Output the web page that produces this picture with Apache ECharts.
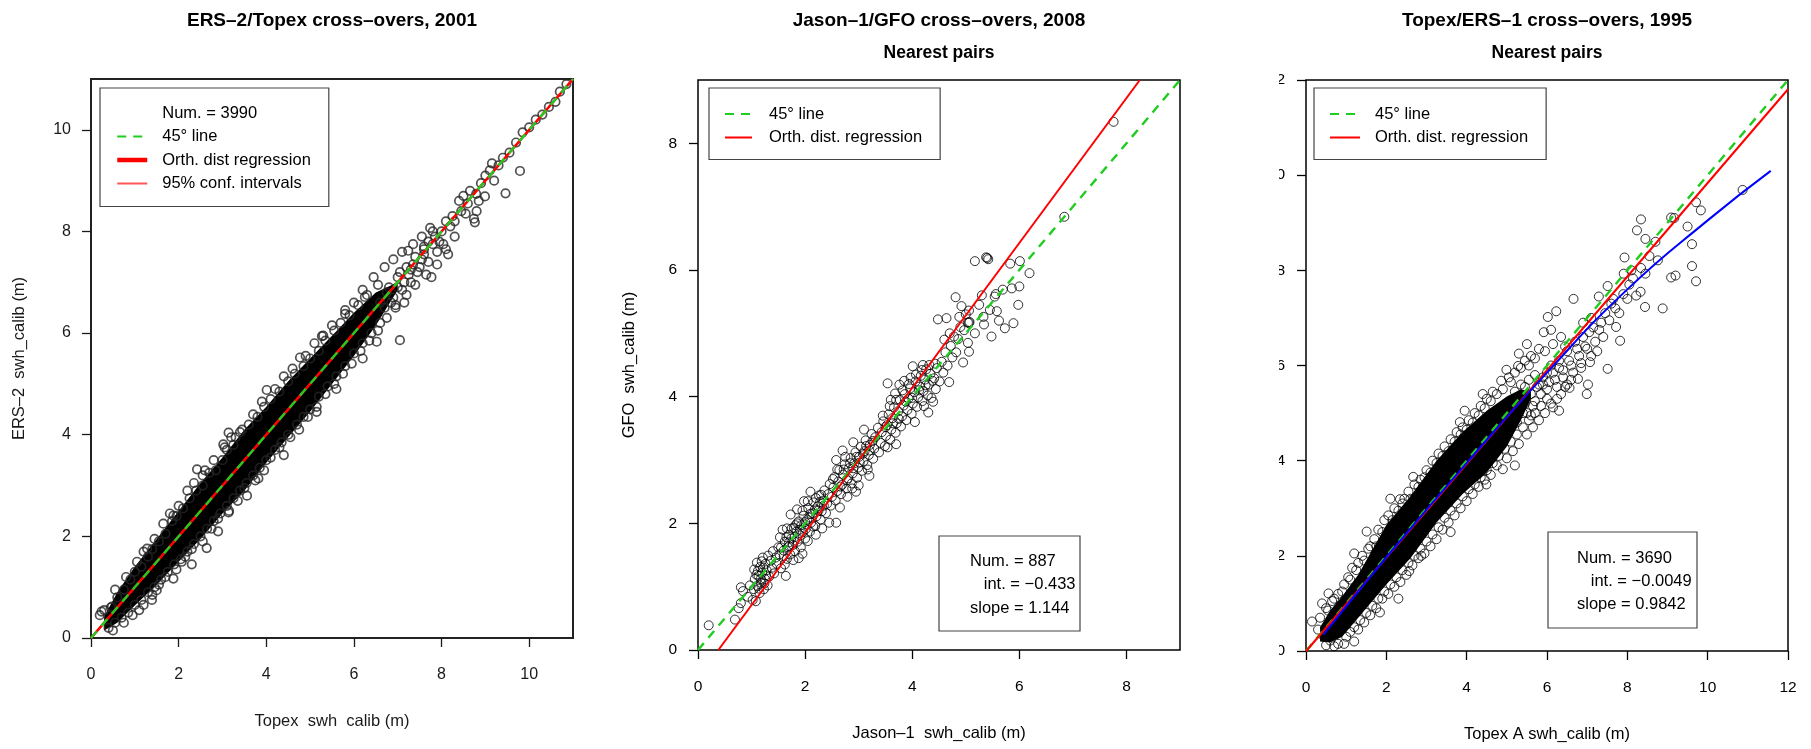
<!DOCTYPE html>
<html>
<head>
<meta charset="utf-8">
<script src="https://cdn.jsdelivr.net/npm/echarts@6/dist/echarts.min.js"></script>
<style>
  html, body { margin: 0; padding: 0; background: #fff; }
  #chart { width: 1811px; height: 749px; }
</style>
</head>
<body>
<div id="chart"></div>
<script>
const FONT = '"Liberation Sans", Arial, Helvetica, sans-serif';

// ---------- panel 1 : ERS-2 / Topex, 2001 ----------
const ersTicks = [0, 2, 4, 6, 8, 10];
// solid black core of the cloud (x, lower y, upper y)
const ersCoreX  = [0.3, 0.6, 1.0, 1.5, 2.0, 2.5, 3.0, 3.5, 4.0, 4.5, 5.0, 5.5, 6.0, 6.5, 7.0];
const ersCoreLo = [0.15, 0.3, 0.64, 1.05, 1.5, 1.95, 2.45, 2.9, 3.45, 3.95, 4.45, 5.0, 5.55, 6.15, 6.85];
const ersCoreHi = [0.42, 0.9, 1.4, 1.95, 2.5, 3.05, 3.55, 4.1, 4.55, 5.05, 5.5, 5.95, 6.4, 6.8, 7.0];
const ersPoints = [
  [0.3,0.55],[0.45,0.6],[0.6,0.8],[0.75,0.95],[0.9,1.15],[1.0,1.3],[1.15,1.4],[1.3,1.6],[1.4,1.75],[1.55,1.9],
  [1.7,2.05],[1.85,2.3],[1.95,2.4],[2.1,2.55],[2.25,2.75],[2.4,2.9],[2.55,3.0],[2.7,3.25],[2.85,3.3],[3.0,3.5],
  [3.1,3.7],[3.25,3.8],[3.45,4.1],[3.6,4.2],[3.8,4.35],[3.95,4.55],[4.1,4.7],[4.3,4.85],[4.5,5.05],[4.65,5.2],
  [4.85,5.35],[5.0,5.5],[5.2,5.65],[5.35,5.85],[5.55,6.05],[5.7,6.2],[5.9,6.35],[6.1,6.55],[6.3,6.75],[6.55,6.95],
  [0.24,0.52],[0.48,0.62],[1.88,2.41],[1.28,1.76],[2.42,3.32],[3.14,4.04],[3.02,3.81],[4.01,4.88],[4.77,5.52],
  [5.27,5.94],[5.80,6.38],[6.25,6.71],[7.24,7.62],[7.74,8.07],[2.55,3.2],[3.3,3.95],
  [0.4,0.2],[0.55,0.3],[0.7,0.4],[0.85,0.5],[1.0,0.65],[1.15,0.75],[1.3,0.9],[1.45,1.0],[1.6,1.15],[1.75,1.3],
  [1.9,1.45],[2.05,1.55],[2.2,1.7],[2.35,1.85],[2.5,2.0],[2.65,2.15],[2.8,2.3],[2.95,2.45],[3.1,2.6],[3.25,2.75],
  [3.4,2.9],[3.55,3.05],[3.7,3.2],[3.85,3.35],[4.0,3.5],[4.2,3.7],[4.35,3.85],[4.5,4.0],[4.7,4.2],[4.85,4.35],
  [5.0,4.5],[5.2,4.75],[5.4,4.95],[5.6,5.15],[5.8,5.35],[6.0,5.6],[6.2,5.8],[6.4,6.0],[6.6,6.2],
  [1.39,0.75],[1.50,0.94],[1.88,1.17],[2.07,1.50],[2.64,1.77],[3.14,2.47],[3.56,2.80],[3.82,3.14],[5.15,4.45],
  [6.52,5.83],[7.05,5.86],[2.3,1.45],[2.9,2.1],[4.4,3.6],[5.6,4.9],[6.2,5.5],[1.1,0.55],
  [6.7,6.5],[6.8,6.9],[6.9,6.7],[7.0,7.1],[7.1,6.85],[7.2,7.3],[7.3,7.0],[7.4,7.5],[7.45,7.2],[7.55,7.45],
  [7.6,7.7],[7.7,7.4],[7.77,7.10],[7.8,7.75],[7.9,7.6],[8.04,7.75],[8.15,7.55],[7.8,8.0],[7.55,7.9],[7.6,7.65],
  [8.0,8.0],[8.2,8.1],[8.3,8.2],[8.45,8.4],[8.6,8.55],[8.76,8.18],[8.80,8.40],[8.99,8.69],[8.74,8.25],[8.79,8.74],
  [8.9,8.95],[9.15,9.34],[9.2,9.0],[9.46,8.75],[9.79,9.19],[9.4,9.45],[9.7,9.75],[10.0,10.05],[10.3,10.3],
  [10.6,10.55],[10.85,10.9],[9.0,9.1],[8.5,8.7],[7.3,7.25],[6.95,6.55],[7.15,6.6],
  [0.2,0.45],[0.55,0.95],[0.8,1.2],[1.05,1.5],[1.2,1.7],[1.45,1.95],[1.65,2.25],[1.8,2.45],[2.0,2.6],[2.2,2.9],
  [2.35,3.05],[2.6,3.3],[2.8,3.5],[3.05,3.75],[3.2,3.95],[3.4,4.05],[3.7,4.4],[3.9,4.65],[4.2,4.9],[4.4,5.15],
  [4.6,5.3],[4.9,5.55],[5.1,5.8],[5.3,5.95],[5.5,6.15],[5.8,6.45],[6.0,6.6],[6.2,6.85],[6.45,7.1],[6.7,7.3],
  [6.9,7.45],[7.1,7.6],[7.35,7.75],
  [0.5,0.15],[0.75,0.3],[0.95,0.45],[1.2,0.65],[1.4,0.85],[1.55,1.05],[1.7,1.2],[1.95,1.35],[2.15,1.6],[2.3,1.75],
  [2.55,1.9],[2.75,2.15],[2.9,2.35],[3.15,2.5],[3.35,2.7],[3.5,2.95],[3.75,3.1],[3.95,3.3],[4.1,3.55],[4.3,3.75],
  [4.55,3.95],[4.75,4.1],[4.95,4.35],[5.15,4.55],[5.35,4.8],[5.55,5.0],[5.75,5.2],[5.95,5.4],[6.15,5.65],
  [6.35,5.85],[6.55,6.05],[6.75,6.3],[6.95,6.5],[7.2,6.75],[7.4,6.95],[7.65,7.15],[7.9,7.35],[8.1,7.65],[8.3,7.9],
  [6.6,6.6],[6.75,6.8],[6.85,6.6],[7.0,6.9],[7.05,7.2],[7.15,7.0],[7.25,7.15],[7.35,7.35],[7.5,7.3],[7.6,7.55],
  [7.7,7.8],[7.85,7.9],[7.95,7.8],[8.1,8.2],[8.25,8.3],[8.4,8.6],[8.55,8.35],[8.65,8.8],[8.85,8.6],[9.1,9.2],
  [9.3,9.3],[9.55,9.55],[9.85,9.95],[10.15,10.2],[10.45,10.45],[10.7,10.75]
];
const ersDiag = [[0, 0], [11, 11]];
const ersFit = [[0, 0], [11, 11]];
const ersConfLo = [[0, 0], [11, 11]];
const ersConfHi = [[0, 0], [11, 11]];

// ---------- panel 2 : Jason-1 / GFO, 2008 ----------
const gfoXTicks = [0, 2, 4, 6, 8];
const gfoYTicks = [0, 2, 4, 6, 8];
const gfoPoints = [
  [0.20,0.39],[0.69,0.48],[0.76,0.66],[0.80,0.74],[0.84,0.93],[0.80,0.99],[0.93,0.84],[0.97,1.02],
  [1.02,0.79],[1.04,0.96],[1.06,1.12],[1.08,0.77],[1.05,1.27],[1.10,1.38],[1.11,1.01],[1.13,1.17],[1.15,0.90],
  [1.16,1.31],[1.18,1.06],[1.20,1.22],[1.21,1.46],[1.23,0.96],[1.25,1.12],[1.26,1.36],[1.28,1.26],[1.30,1.02],
  [1.31,1.49],[1.33,1.16],[1.36,1.41],[1.38,1.30],
  [1.12,1.25],[1.17,1.12],[1.22,1.30],[1.27,1.18],[1.19,1.40],[1.09,1.19],[1.14,0.97],[1.24,1.05],
  [1.40,1.56],[1.42,1.21],[1.45,1.46],[1.47,1.36],[1.50,1.62],[1.52,1.51],[1.55,1.29],[1.58,1.90],[1.60,1.57],
  [1.62,1.71],[1.64,1.17],[1.66,1.44],[1.68,1.62],[1.70,1.82],[1.72,1.51],[1.74,1.76],[1.77,1.66],[1.79,1.93],
  [1.81,1.56],[1.84,1.87],[1.86,1.71],[1.88,2.03],[1.91,1.81],[1.95,1.52],[1.93,1.97],[1.97,2.12],[2.00,1.76],
  [2.01,1.91],[2.04,2.06],[2.06,2.24],[2.09,1.87],[2.11,2.01],[2.14,2.16],[2.16,2.33],[2.19,1.96],[2.21,2.11],
  [2.24,2.27],[2.26,2.44],[2.29,2.06],[2.31,2.19],[2.34,2.36],[2.36,2.52],[2.39,2.16],[2.41,2.31],[2.43,2.46],
  [1.73,2.14],[1.85,2.22],[1.98,2.35],[2.10,2.50],[1.66,1.92],[1.53,1.78],[1.62,1.35],[1.78,1.42],[1.92,1.62],
  [2.05,1.72],[2.20,1.82],[2.32,1.92],[2.45,2.01],[2.58,2.01],[1.88,1.45],
  [1.55,1.62],[1.60,1.48],[1.65,1.78],[1.70,1.64],[1.75,1.92],[1.80,1.78],[1.85,2.00],[1.90,1.90],[1.95,2.20],
  [2.00,2.02],[2.05,2.35],[2.10,2.15],[2.15,1.95],[2.20,2.40],[2.25,2.20],[2.30,2.45],[2.35,2.28],[1.70,1.70],
  [1.82,1.97],[1.96,1.86],[2.08,2.09],[2.18,2.22],[2.28,2.34],
  [2.46,2.62],[2.48,2.28],[2.50,2.42],[2.53,2.57],[2.55,2.73],[2.57,2.36],[2.60,2.51],[2.62,2.66],[2.64,2.84],
  [2.67,2.46],[2.69,2.61],[2.71,2.77],[2.74,2.93],[2.77,2.55],[2.79,2.42],[2.80,2.71],[2.82,2.87],[2.85,3.03],
  [2.87,2.63],[2.89,2.79],[2.92,2.95],[2.94,3.12],[2.97,2.72],[2.99,2.88],[3.01,3.05],[3.04,3.21],[3.06,2.83],
  [3.09,2.98],[3.11,3.14],[3.13,3.31],[3.16,2.92],[3.17,2.85],[3.19,3.08],[3.21,3.24],[3.24,3.41],[3.27,3.02],
  [3.29,3.18],[3.31,3.36],[2.58,3.00],[2.70,3.15],[2.90,3.28],[3.10,3.48],[2.65,2.25],[2.95,2.50],[3.20,2.75],
  [2.52,2.70],[2.60,2.85],[2.66,2.58],[2.72,2.85],[2.78,2.68],[2.84,2.95],[2.90,2.87],[2.96,3.05],[3.02,2.96],
  [3.08,3.10],[3.14,3.22],[3.20,3.15],[3.26,3.30],[2.75,3.05],[2.88,2.55],[3.00,2.60],
  [3.36,3.51],[3.38,3.12],[3.41,3.27],[3.43,3.44],[3.46,3.61],[3.49,3.22],[3.51,3.38],[3.54,3.20],[3.54,4.21],
  [3.53,3.55],[3.56,3.72],[3.59,3.32],[3.61,3.48],[3.63,3.66],[3.66,3.83],[3.69,3.43],[3.71,3.58],[3.74,3.77],
  [3.76,4.19],[3.77,3.95],[3.79,3.53],[3.81,3.69],[3.84,3.86],[3.86,4.04],[3.89,3.63],[3.91,3.79],[3.93,3.97],
  [3.96,4.13],[3.99,3.73],[4.01,4.48],[4.01,3.89],[4.04,4.07],[4.06,4.24],[4.09,3.84],[4.11,3.99],[4.14,4.16],
  [4.16,4.33],[4.19,3.93],[4.20,4.50],[4.21,4.09],[4.24,4.27],[4.26,4.43],[4.29,4.02],[4.31,4.19],[4.34,4.36],
  [4.36,3.98],[4.39,3.92],[4.41,4.29],[4.44,4.12],[3.60,3.95],[3.85,4.25],[4.05,3.60],[4.30,3.75],[3.70,3.25],
  [3.45,3.70],[3.50,3.52],[3.58,3.85],[3.64,3.58],[3.70,3.95],[3.75,3.65],[3.82,4.10],[3.88,3.92],[3.94,4.20],
  [4.00,3.98],[4.07,4.35],[4.13,4.10],[4.18,4.42],[4.25,4.18],[4.32,4.50],[4.38,4.25],[4.43,4.52],[3.68,4.05],
  [3.97,4.30],[4.22,3.85],
  [4.46,4.45],[4.48,5.22],[4.51,4.24],[4.55,4.55],[4.58,4.38],[4.62,4.70],[4.64,5.24],[4.66,4.49],[4.69,4.23],
  [4.72,4.80],[4.75,4.62],[4.78,4.95],[4.81,5.57],[4.82,4.70],[4.86,4.91],[4.88,5.26],[4.92,5.43],[4.95,4.54],
  [4.97,5.05],[5.04,5.17],[5.04,4.85],[5.06,5.36],[5.06,4.71],[4.60,4.90],[4.70,5.00],[4.90,5.10],[5.00,5.30],
  [5.17,5.00],[5.17,6.14],[5.33,5.26],[5.34,5.14],[5.38,6.20],[5.40,6.19],[5.42,6.17],[5.45,5.37],[5.48,4.95],
  [5.54,5.58],[5.56,5.62],[5.58,5.35],[5.62,5.20],[5.69,5.69],[5.73,5.08],[5.83,6.10],[5.86,5.71],[5.89,5.16],
  [5.98,5.45],[6.00,5.74],[6.01,6.14],[6.19,5.95],[5.06,5.17],[5.07,5.18],[5.25,5.45],[5.30,5.60],
  [6.84,6.84],[7.76,8.34]
];
const gfoDiag = [[0, 0], [9, 9]];
const gfoFit = [[0.38, 0], [8.25, 9]];
const gfoStats = ['Num. = 887', '   int. = \u22120.433', 'slope = 1.144'];

// ---------- panel 3 : Topex / ERS-1, 1995 ----------
const e1Ticks = [0, 2, 4, 6, 8, 10, 12];
const e1CoreX  = [0.35, 0.6, 0.9, 1.3, 2.0, 2.6, 3.25, 3.9, 4.5, 5.0, 5.35, 5.6];
const e1CoreLo = [0.2, 0.18, 0.3, 0.7, 1.4, 1.95, 2.7, 3.3, 3.75, 4.3, 4.85, 5.3];
const e1CoreHi = [0.5, 0.85, 1.15, 1.6, 2.65, 3.25, 4.0, 4.6, 5.05, 5.35, 5.5, 5.45];
const e1Points = [
  [0.15,0.62],[0.35,0.7],[0.5,0.9],[0.56,1.21],[0.65,1.05],[0.8,1.2],[0.95,1.4],[1.05,1.55],[1.15,1.75],
  [1.3,1.85],[1.4,2.0],[1.51,2.51],[1.55,2.15],[1.7,2.35],[1.8,2.55],[1.95,2.75],[2.05,2.85],[2.2,3.0],
  [2.34,3.19],[2.4,3.1],[2.55,3.35],[2.67,3.66],[2.7,3.5],[2.85,3.6],[3.0,3.8],[3.15,4.0],[3.3,4.15],[3.45,4.3],
  [3.6,4.45],[3.75,4.6],[3.83,4.81],[3.9,4.7],[4.05,4.85],[4.2,5.0],[4.35,5.15],[4.5,5.3],[4.65,5.45],[4.86,5.68],
  [4.99,5.91],[5.1,5.65],[5.28,5.99],[5.45,6.1],[5.6,6.2],[5.92,6.7],[6.02,7.02],[6.23,7.14],[6.66,7.4],
  [0.6,0.22],[0.45,0.3],[0.8,0.15],[1.0,0.3],[1.2,0.5],[1.35,0.65],[1.5,0.8],[1.65,0.95],[1.84,0.81],[1.8,1.1],
  [1.95,1.25],[2.1,1.4],[2.25,1.55],[2.4,1.7],[2.57,1.68],[2.55,1.85],[2.7,2.0],[2.87,2.0],[2.85,2.15],[3.0,2.3],
  [3.15,2.45],[3.3,2.6],[3.45,2.8],[3.6,2.95],[3.75,3.1],[3.9,3.25],[4.05,3.4],[4.2,3.5],[4.35,3.65],[4.49,3.5],
  [4.5,3.8],[4.65,3.95],[4.9,3.82],[4.8,4.1],[4.95,4.25],[5.1,4.4],[5.25,4.55],[5.4,4.7],[5.55,4.85],[5.7,5.0],
  [5.85,5.15],[6.0,5.3],[6.15,5.12],[6.35,5.4],[6.56,5.53],[6.77,5.72],[6.99,5.4],[7.02,5.6],
  [5.9,5.6],[6.0,5.85],[6.1,6.0],[6.2,5.7],[6.3,6.1],[6.4,5.9],[6.5,6.3],[6.6,6.0],[6.7,6.5],[6.8,6.2],
  [6.9,6.6],[7.07,6.07],[7.0,6.35],[7.15,6.8],[7.2,6.5],[7.29,7.45],[7.35,6.9],[7.45,7.1],[7.51,7.67],[7.51,5.93],
  [7.6,7.3],[7.72,6.81],[7.82,6.52],[7.9,7.5],[7.91,7.93],[7.93,8.27],[8.05,7.7],[8.14,7.83],[8.22,7.47],
  [8.24,8.84],[8.33,7.55],[8.34,8.05],[8.34,9.07],[8.44,7.23],[8.45,7.93],[8.45,8.66],[8.76,8.21],[8.88,7.2],
  [9.09,7.85],[9.09,9.11],[9.17,9.1],[9.2,7.89],[9.5,8.92],[9.61,8.55],[9.61,8.09],[9.71,7.77],[9.71,9.43],
  [9.83,9.26],[6.35,6.6],[6.45,6.4],[6.9,6.9],[7.1,7.0],[7.3,6.75],[7.7,7.2],[8.0,7.4],[5.95,6.3],[6.15,6.45],
  [10.87,9.69],
  [0.3,0.45],[0.55,0.85],[0.7,1.1],[0.9,1.25],[1.1,1.5],[1.25,1.7],[1.45,1.9],[1.6,2.2],[1.75,2.2],[1.9,2.5],
  [2.15,2.75],[2.3,2.95],[2.45,3.2],[2.6,3.2],[2.8,3.45],[2.95,3.65],[3.1,3.75],[3.25,3.95],[3.4,4.1],[3.55,4.2],
  [3.7,4.4],[3.85,4.55],[4.0,4.65],[4.15,4.8],[4.3,4.95],[4.45,5.1],[4.6,5.25],[4.75,5.4],[4.9,5.5],[5.05,5.75],
  [5.2,5.85],[5.35,5.95],[5.55,6.0],[5.7,6.15],[5.8,6.35],[5.3,6.25],[5.5,6.45],[6.1,6.75],[4.4,5.4],[3.95,5.05],
  [2.1,3.2],[1.2,2.05],[0.4,1.0],
  [0.5,0.12],[0.7,0.1],[0.95,0.15],[1.1,0.4],[1.3,0.45],[1.45,0.6],[1.6,0.75],[1.75,0.9],[1.9,1.1],[2.05,1.2],
  [2.2,1.35],[2.35,1.45],[2.5,1.6],[2.65,1.8],[2.8,1.95],[2.95,2.05],[3.1,2.2],[3.25,2.35],[3.4,2.55],[3.55,2.7],
  [3.7,2.85],[3.85,3.0],[4.0,3.15],[4.15,3.3],[4.3,3.45],[4.45,3.6],[4.6,3.7],[4.75,3.9],[5.0,4.05],[5.15,4.2],
  [5.3,4.35],[5.5,4.55],[5.65,4.7],[5.8,4.85],[5.95,5.0],[6.1,5.2],[6.25,5.3],[6.45,5.55],[6.6,5.7],[6.85,5.95],
  [7.1,6.2],[1.2,0.2],[2.3,1.1],[3.6,2.5],[5.2,3.9],[6.3,5.05],
  [5.3,5.1],[5.4,5.3],[5.5,5.0],[5.6,5.4],[5.7,5.25],[5.75,5.55],[5.85,5.4],[5.9,5.75],[6.0,5.5],[6.05,5.65],
  [6.15,5.85],[6.25,5.55],[6.3,5.95],[6.4,5.75],[6.5,5.6],[6.55,6.1],[6.65,5.85],[6.75,6.35],[6.85,6.05],
  [6.95,6.4],[7.05,6.7],[7.25,6.3],[7.4,6.6],[7.55,6.95],[7.65,7.4],[7.8,7.1],[8.1,8.0],[8.55,8.3],[8.7,8.6],
  [5.1,4.9],[5.2,5.15],[5.45,5.55],
  [5.2,5.45],[5.35,5.6],[5.45,5.2],[5.55,5.7],[5.65,5.15],[5.7,5.8],[5.8,5.6],[5.25,4.8],[5.4,5.0],[5.6,4.95]
];
const e1Diag = [[0, 0], [12, 12]];
const e1Fit = [[0, -0.005], [12, 11.806]];
const e1Smooth = [[0.43, 0.34], [2, 1.97], [4, 3.95], [6, 5.85], [8, 7.6], [10, 9.05], [11.57, 10.09]];
const e1Stats = ['Num. = 3690', '   int. = \u22120.0049', 'slope = 0.9842'];

// ---------- helpers ----------
const GREEN = '#1fcc1f';
const RED = '#ff0000';

function xAxis(idx, max, ticks, name, opt) {
  opt = opt || {};
  return {
    gridIndex: idx, type: 'value', min: 0, max: max, interval: 2,
    name: name, nameLocation: 'middle', nameGap: 75,
    nameTextStyle: { fontFamily: FONT, fontSize: 16.5, color: opt.color || '#000' },
    axisLine: { show: false },
    axisTick: { show: true, length: 9, customValues: ticks, lineStyle: { color: opt.color || '#000', width: 1.3 } },
    axisLabel: { customValues: ticks, margin: 29, fontFamily: FONT, fontSize: opt.fs || 15.5, color: opt.color || '#000' },
    splitLine: { show: false }
  };
}
function yAxis(idx, max, ticks, name, gap, opt) {
  opt = opt || {};
  return {
    gridIndex: idx, type: 'value', min: 0, max: max, interval: 2,
    name: name, nameLocation: 'middle', nameGap: gap, nameRotate: 90,
    nameTextStyle: { fontFamily: FONT, fontSize: 16.5, color: opt.color || '#000' },
    axisLine: { show: false },
    axisTick: { show: true, length: 9, customValues: ticks, lineStyle: { color: opt.color || '#000', width: 1.3 } },
    axisLabel: { customValues: ticks, margin: opt.margin || 21, fontFamily: FONT, fontSize: opt.fs || 15.5, color: opt.color || '#000' },
    splitLine: { show: false }
  };
}
function core(idx, xs, lo, hi) {
  return {
    type: 'custom', xAxisIndex: idx, yAxisIndex: idx, z: 1, silent: true,
    data: [[xs[0], lo[0]]],
    renderItem: function (params, api) {
      const pts = [];
      for (let i = 0; i < xs.length; i++) pts.push(api.coord([xs[i], lo[i]]));
      for (let i = xs.length - 1; i >= 0; i--) pts.push(api.coord([xs[i], hi[i]]));
      return { type: 'polygon', shape: { points: pts }, style: { fill: '#000' } };
    }
  };
}
function dots(idx, data, color, width, size) {
  return {
    type: 'scatter', xAxisIndex: idx, yAxisIndex: idx, data: data, z: 2, silent: true,
    symbol: 'circle', symbolSize: size,
    itemStyle: { color: 'rgba(0,0,0,0)', borderColor: color, borderWidth: width }
  };
}
function line(idx, name, data, color, width, dashed, smooth) {
  return {
    type: 'line', name: name, xAxisIndex: idx, yAxisIndex: idx, data: data, z: 3, silent: true,
    symbol: 'none', smooth: !!smooth, color: color,
    lineStyle: { color: color, width: width, type: dashed ? [9, 7] : 'solid' }
  };
}
function legend(left, top, names, itemWidth, textPad, padding) {
  return {
    orient: 'vertical', left: left, top: top, data: names, selectedMode: false,
    itemWidth: itemWidth, itemHeight: 14, itemGap: 3.5, padding: padding,
    borderColor: '#444', borderWidth: 1.2, backgroundColor: '#fff',
    itemStyle: { opacity: 0 },
    textStyle: { fontFamily: FONT, fontSize: 16.5, color: '#000', lineHeight: 20, padding: [0, 0, 0, textPad] }
  };
}
function statsBox(x, y, w, h, textX, textY, lines, lh) {
  return {
    type: 'group', children: [
      { type: 'rect', shape: { x: x, y: y, width: w, height: h }, style: { fill: '#fff', stroke: '#444', lineWidth: 1.2 }, z: 50 },
      { type: 'text', x: textX, y: textY, z: 51,
        style: { text: lines.join('\n'), font: '16.5px ' + FONT, fill: '#000', lineHeight: lh, verticalAlign: 'top' } }
    ]
  };
}
function heading(cx, cy, text, size) {
  return { type: 'text', x: cx, y: cy, z: 60,
    style: { text: text, font: 'bold ' + size + 'px ' + FONT, fill: '#000', align: 'center', verticalAlign: 'middle' } };
}

const option = {
  animation: false,
  backgroundColor: '#fff',
  grid: [
    { left: 91, top: 79, width: 482, height: 559, show: true, borderColor: '#222', borderWidth: 2, backgroundColor: 'transparent' },
    { left: 698, top: 80, width: 482, height: 570, show: true, borderColor: '#000', borderWidth: 1.5, backgroundColor: 'transparent' },
    { left: 1306, top: 80, width: 482, height: 571, show: true, borderColor: '#000', borderWidth: 1.5, backgroundColor: 'transparent' }
  ],
  xAxis: [
    xAxis(0, 11, ersTicks, 'Topex  swh  calib (m)', { color: '#1a1a1a', fs: 16 }),
    xAxis(1, 9, gfoXTicks, 'Jason\u20131  swh_calib (m)'),
    xAxis(2, 12, e1Ticks, 'Topex A swh_calib (m)')
  ],
  yAxis: [
    yAxis(0, 11, ersTicks, 'ERS\u20132  swh_calib (m)', 63, { color: '#1a1a1a', fs: 16, margin: 20 }),
    yAxis(1, 9, gfoYTicks, 'GFO  swh_calib (m)', 60),
    yAxis(2, 12, e1Ticks, '', 60)
  ],
  legend: [
    legend(100, 88, [
      { name: 'Num. = 3990', lineStyle: { opacity: 0 } },
      '45\u00b0 line',
      { name: 'Orth. dist regression', lineStyle: { width: 4.5 } },
      '95% conf. intervals'
    ], 30, 10, [15, 18, 13, 15]),
    legend(709, 88, ['45\u00b0 line', 'Orth. dist. regression'], 27, 12, [16, 18, 12, 15]),
    legend(1314, 88, ['45\u00b0 line', 'Orth. dist. regression'], 30, 10, [16, 18, 12, 15])
  ],
  series: [
    core(0, ersCoreX, ersCoreLo, ersCoreHi),
    dots(0, ersPoints, '#262626', 1.7, 8.5),
    { type: 'line', name: 'Num. = 3990', xAxisIndex: 0, yAxisIndex: 0, data: [], symbol: 'none', lineStyle: { opacity: 0 } },
    line(0, '95% conf. intervals', ersConfLo, '#ff5555', 1.5),
    line(0, '95% conf. intervals', ersConfHi, '#ff5555', 1.5),
    line(0, 'Orth. dist regression', ersFit, RED, 2.6),
    line(0, '45\u00b0 line', ersDiag, GREEN, 2.4, true),

    dots(1, gfoPoints, '#000', 1, 9),
    line(1, '45\u00b0 line', gfoDiag, GREEN, 2.4, true),
    line(1, 'Orth. dist. regression', gfoFit, RED, 2),

    core(2, e1CoreX, e1CoreLo, e1CoreHi),
    dots(2, e1Points, '#000', 1, 9),
    line(2, '45\u00b0 line', e1Diag, GREEN, 2.4, true),
    line(2, 'Orth. dist. regression', e1Fit, RED, 2),
    line(2, 'smooth', e1Smooth, '#0000ff', 2, false, true)
  ],
  graphic: [
    heading(332, 20.5, 'ERS\u20132/Topex cross\u2013overs, 2001', 19),
    heading(939, 20.5, 'Jason\u20131/GFO cross\u2013overs, 2008', 19),
    heading(939, 53, 'Nearest pairs', 17.5),
    heading(1547, 20.5, 'Topex/ERS\u20131 cross\u2013overs, 1995', 19),
    heading(1547, 53, 'Nearest pairs', 17.5),
    statsBox(939, 536, 141, 95, 970, 549.5, gfoStats, 23.5),
    statsBox(1548, 532, 149, 96, 1577, 546.5, e1Stats, 23),
    // left part of the third panel's tick labels is cut off in the source image
    { type: 'rect', shape: { x: 1186, y: 66, width: 93, height: 600 }, style: { fill: '#fff' }, z: 100 }
  ]
};

const chart = echarts.init(document.getElementById('chart'));
chart.setOption(option);
window.addEventListener('resize', () => chart.resize());
</script>
</body>
</html>
